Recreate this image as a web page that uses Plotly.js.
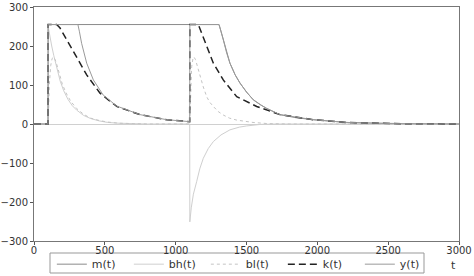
<!DOCTYPE html>
<html>
<head>
<meta charset="utf-8">
<script src="https://cdn.plot.ly/plotly-3.0.1.min.js"></script>
<style>html,body{margin:0;padding:0;background:#fff;}#chart{width:474px;height:276px;}</style>
</head>
<body>
<div id="chart"></div>
<script>
// m(t)
const mT = [0, 99, 100, 1306, 1320, 1336, 1360, 1383, 1420, 1454, 1500, 1548, 1600, 1642, 1736, 1850, 1972, 2100, 2207, 2400, 2540, 2800, 3000];
const mV = [0, 0, 255, 255, 238, 216, 182, 156, 126, 105, 82, 62, 49, 40, 24, 16, 11, 7, 4, 2, 1, 0.5, 0];
// bh(t)
const bhT = [0, 99, 100, 110, 125, 140, 160, 185, 210, 240, 270, 300, 350, 400, 460, 520, 600, 700, 800, 1099, 1100, 1110, 1125, 1148, 1170, 1195, 1230, 1266, 1320, 1383, 1450, 1501, 1600, 1700, 3000];
const bhV = [0, 0, 250, 225, 200, 175, 145, 110, 85, 63, 47, 36, 22, 14, 8, 4, 2, 1, 0, 0, -251, -215, -180, -148, -115, -88, -63, -45, -28, -15, -8, -5, -1, 0, 0];
// bl(t)
const blT = [0, 99, 100, 108, 118, 128, 140, 155, 175, 200, 230, 260, 300, 350, 400, 460, 520, 600, 700, 800, 1099, 1100, 1105, 1113, 1122, 1129, 1140, 1155, 1172, 1195, 1219, 1240, 1266, 1300, 1336, 1380, 1431, 1490, 1546, 1650, 1800, 3000];
const blV = [0, 0, 0, 100, 150, 168, 172, 160, 132, 102, 77, 58, 40, 25, 15, 9, 5, 2, 1, 0, 0, 0, 80, 147, 168, 172, 165, 145, 122, 95, 70, 56, 45, 32, 23, 15, 10, 6, 4, 1, 0, 0];
// k(t)
const kT = [0, 99, 100, 160, 184, 231, 301, 372, 466, 584, 748, 937, 1099, 1100, 1160, 1190, 1219, 1266, 1336, 1431, 1572, 1736, 1972, 2207, 2540, 3000];
const kV = [0, 0, 255, 255, 246, 216, 169, 126, 79, 45, 24, 11, 6, 255, 255, 228, 198, 156, 113, 70, 45, 24, 11, 4, 1, 0];
// y(t)
const yT = [0, 99, 100, 310, 320, 336, 372, 419, 489, 540, 584, 748, 937, 1099, 1100, 1306, 1320, 1336, 1360, 1383, 1420, 1454, 1500, 1548, 1600, 1642, 1736, 1972, 2207, 2540, 3000];
const yV = [0, 0, 255, 255, 238, 207, 156, 113, 74, 58, 46, 24, 11, 6, 255, 255, 238, 216, 182, 156, 126, 105, 82, 62, 49, 40, 24, 11, 4, 1, 0];

const xTicks = [0, 500, 1000, 1500, 2000, 2500, 3000];
const yTicks = [-300, -200, -100, 0, 100, 200, 300];

const traces = [
  {x: mT, y: mV, name: 'm(t)', mode: 'lines', line: {color: '#8a8a8a', width: 1}},
  {x: bhT, y: bhV, name: 'bh(t)', mode: 'lines', line: {color: '#cfcfcf', width: 1}},
  {x: blT, y: blV, name: 'bl(t)', mode: 'lines', line: {color: '#c4c4c4', width: 1, dash: 'dot'}},
  {x: kT, y: kV, name: 'k(t)', mode: 'lines', line: {color: '#222222', width: 1.5, dash: '7px,4px'}},
  {x: yT, y: yV, name: 'y(t)', mode: 'lines', line: {color: '#9a9a9a', width: 1}}
];

const font = {family: 'DejaVu Sans', size: 10, color: '#333'};
const layout = {
  width: 474, height: 276,
  margin: {l: 34, r: 15, t: 7, b: 35, autoexpand: false},
  paper_bgcolor: '#fff', plot_bgcolor: '#fff',
  font: font,
  showlegend: true,
  xaxis: {
    range: [0, 3000], tickvals: xTicks, ticktext: xTicks.map(String),
    showgrid: false, zeroline: false, showline: true, mirror: true,
    linecolor: '#777', linewidth: 1, ticks: 'outside', ticklen: 3, tickcolor: '#555',
    tickfont: font, ticklabelstandoff: -3
  },
  yaxis: {
    range: [-300, 300], tickvals: yTicks,
    showgrid: false, zeroline: true, zerolinecolor: '#d0d0d0', zerolinewidth: 1,
    showline: true, mirror: true,
    linecolor: '#777', linewidth: 1, ticks: 'outside', ticklen: 3, tickcolor: '#555',
    tickfont: font
  },
  legend: {
    orientation: 'h', x: 0.042, xanchor: 'left', y: -0.037, yanchor: 'top',
    borderwidth: 0, bgcolor: 'rgba(0,0,0,0)',
    font: {family: 'DejaVu Sans', size: 11, color: '#333'},
    entrywidth: 32, entrywidthmode: 'pixels', tracegroupgap: 0
  },
  shapes: [{
    type: 'rect', xref: 'paper', yref: 'paper',
    x0: (50 - 34) / 425, x1: (424 - 34) / 425,
    y0: -(253 - 241) / 234, y1: -(273 - 241) / 234,
    line: {color: '#999', width: 1}, fillcolor: 'rgba(0,0,0,0)', layer: 'below'
  }],
  annotations: [{
    text: 't', xref: 'paper', yref: 'paper', x: 0.986, y: 0,
    xanchor: 'center', yanchor: 'middle', yshift: -24, showarrow: false,
    font: {family: 'DejaVu Sans', size: 11, color: '#333'}
  }]
};

Plotly.newPlot('chart', traces, layout, {staticPlot: true, displayModeBar: false});
</script>
</body>
</html>
